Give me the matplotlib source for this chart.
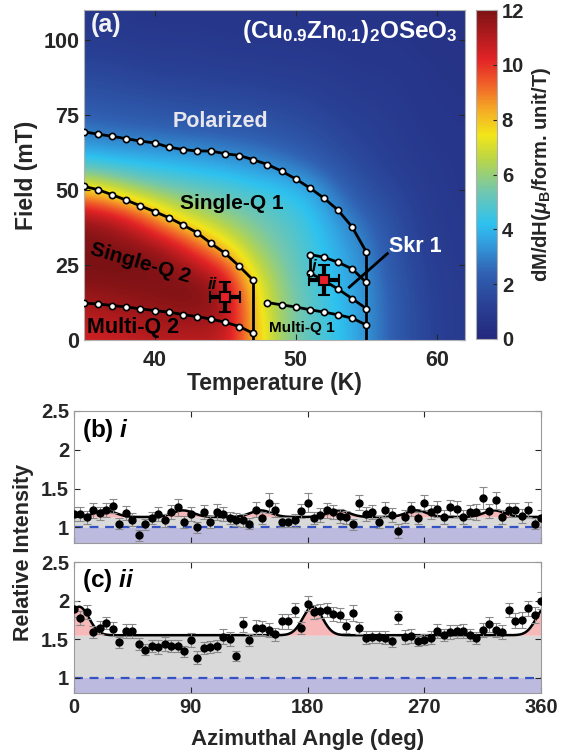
import numpy as np
import matplotlib
matplotlib.use('Agg')
import matplotlib.pyplot as plt
from matplotlib.colors import LinearSegmentedColormap

plt.rcParams['font.family'] = ['Liberation Sans', 'DejaVu Sans']
plt.rcParams['font.weight'] = 'bold'
plt.rcParams['axes.labelweight'] = 'bold'
plt.rcParams['mathtext.fontset'] = 'custom'
plt.rcParams['mathtext.rm'] = 'Liberation Sans:bold'
plt.rcParams['mathtext.bf'] = 'Liberation Sans:bold'
plt.rcParams['mathtext.it'] = 'Liberation Sans:italic:bold'
plt.rcParams['mathtext.default'] = 'bf'

# ---- (a) dM/dH map (rows: field, cols: temperature)
temp_grid = [35, 37, 39, 41, 43, 45, 47, 49, 51, 53, 55, 57, 59, 61, 63]
field_grid = [0, 10, 20, 30, 40, 50, 60, 70, 80, 90, 100, 110]
dmdh = [
    [10.5, 10.5, 10.8, 10.8, 10.8, 10.8, 8.3, 6.0, 5.0, 4.3, 3.3, 2.2, 1.4, 1.0, 0.9],
    [11.0, 11.3, 11.5, 11.7, 11.8, 11.5, 8.0, 6.0, 5.0, 4.2, 3.3, 2.2, 1.4, 1.0, 0.9],
    [12.0, 12.0, 12.0, 12.0, 12.0, 11.0, 7.5, 5.8, 4.8, 4.0, 3.2, 2.1, 1.3, 1.0, 0.9],
    [12.0, 12.0, 12.0, 11.5, 9.8, 8.0, 6.2, 5.4, 4.6, 3.8, 3.0, 1.9, 1.2, 0.9, 0.8],
    [11.8, 11.3, 10.0, 8.0, 6.8, 6.0, 5.5, 5.0, 4.4, 3.4, 2.5, 1.7, 1.1, 0.9, 0.8],
    [8.0, 7.0, 6.0, 5.5, 5.2, 5.0, 4.6, 4.3, 3.8, 2.6, 1.8, 1.4, 1.0, 0.8, 0.7],
    [4.2, 4.0, 3.9, 3.8, 3.6, 3.4, 3.1, 2.8, 2.3, 1.8, 1.4, 1.1, 0.9, 0.8, 0.7],
    [2.8, 2.6, 2.5, 2.4, 2.3, 2.2, 2.1, 1.9, 1.7, 1.4, 1.2, 1.0, 0.8, 0.7, 0.7],
    [2.0, 1.9, 1.8, 1.7, 1.6, 1.6, 1.5, 1.4, 1.3, 1.1, 1.0, 0.9, 0.7, 0.7, 0.6],
    [1.5, 1.4, 1.3, 1.2, 1.2, 1.1, 1.1, 1.0, 1.0, 0.9, 0.8, 0.8, 0.7, 0.6, 0.6],
    [1.0, 1.0, 0.9, 0.9, 0.9, 0.8, 0.8, 0.8, 0.8, 0.7, 0.7, 0.7, 0.6, 0.6, 0.5],
    [0.8, 0.8, 0.7, 0.7, 0.7, 0.7, 0.7, 0.7, 0.6, 0.6, 0.6, 0.6, 0.6, 0.5, 0.5],
]

# phase boundaries
t_pol = [35, 36, 37, 38, 39, 40, 41, 42, 43, 44, 45, 46, 47, 48, 49, 50, 51, 52, 53, 54, 55]
h_pol = [69.4, 68.6, 67.9, 67.1, 66.3, 65.7, 64.3, 63.5, 63.0, 63.0, 62.1, 61.5, 60.1,
         58.5, 56.3, 53.7, 50.7, 47.3, 43.3, 37.7, 29.4]
t_sq = [35, 36, 37, 38, 39, 40, 41, 42, 43, 44, 45, 46, 47]
h_sq = [51.2, 50.1, 48.4, 46.6, 44.7, 42.8, 40.8, 38.4, 35.8, 32.2, 28.9, 24.6, 19.9]
t_mq2 = [35, 36, 37, 38, 39, 40, 41, 42, 43, 44, 45, 46, 47]
h_mq2 = [12.3, 12.0, 11.5, 11.0, 10.4, 9.8, 9.3, 8.5, 7.8, 7.0, 5.9, 4.5, 2.2]
t_mq1 = [48, 49, 50, 51, 52, 53, 54, 55]
h_mq1 = [12.5, 11.7, 11.0, 10.1, 9.3, 8.4, 7.3, 5.0]
t_skr = [51, 52, 53, 54, 55]
h_skr_top = [28.5, 27.6, 25.9, 23.7, 19.2]
h_skr_bot = [22.4, 19.8, 17.0, 13.8, 10.5]

# measurement points i and ii
pt_i = (52.0, 20.1)
pt_ii = (45.0, 14.2)

# ---- (b), (c) azimuthal scans
angles = np.arange(0, 361, 5)
int_i = [1.17, 1.17, 1.13, 1.22, 1.18, 1.23, 1.28, 1.05, 1.19, 1.10,
         0.90, 1.04, 1.12, 1.17, 1.09, 1.20, 1.26, 1.07, 1.17, 1.00,
         1.20, 1.07, 1.20, 1.17, 1.12, 1.10, 1.09, 1.05, 1.23, 1.12,
         1.32, 1.22, 1.07, 1.07, 1.09, 1.21, 1.32, 1.12, 1.16, 1.22,
         1.20, 1.15, 1.13, 1.04, 1.32, 1.17, 1.20, 1.07, 1.23, 1.16,
         0.95, 1.14, 1.24, 1.12, 1.32, 1.20, 1.24, 1.13, 1.26, 1.24,
         1.14, 1.20, 1.20, 1.38, 1.21, 1.35, 1.13, 1.23, 1.23, 1.15,
         1.23, 1.05, 1.12]
err_i = [0.09, 0.09, 0.08, 0.10, 0.09, 0.09, 0.09, 0.07, 0.09, 0.08,
         0.07, 0.07, 0.08, 0.09, 0.08, 0.09, 0.11, 0.08, 0.09, 0.07,
         0.09, 0.08, 0.10, 0.09, 0.08, 0.08, 0.08, 0.07, 0.10, 0.08,
         0.13, 0.09, 0.07, 0.07, 0.08, 0.09, 0.12, 0.08, 0.09, 0.10,
         0.09, 0.09, 0.08, 0.07, 0.10, 0.09, 0.09, 0.08, 0.10, 0.09,
         0.09, 0.08, 0.09, 0.08, 0.10, 0.09, 0.10, 0.09, 0.10, 0.10,
         0.09, 0.09, 0.10, 0.14, 0.09, 0.11, 0.09, 0.09, 0.09, 0.09,
         0.10, 0.07, 0.11]
int_ii = [1.89, 1.77, 1.85, 1.59, 1.65, 1.71, 1.63, 1.46, 1.60, 1.61,
          1.44, 1.36, 1.41, 1.40, 1.44, 1.41, 1.41, 1.34, 1.49, 1.26,
          1.38, 1.40, 1.41, 1.53, 1.50, 1.28, 1.69, 1.49, 1.65, 1.64,
          1.62, 1.56, 1.73, 1.73, 1.88, 1.64, 1.96, 1.85, 1.86, 1.88,
          1.82, 1.81, 1.67, 1.84, 1.64, 1.52, 1.53, 1.53, 1.52, 1.47,
          1.78, 1.53, 1.54, 1.48, 1.49, 1.52, 1.61, 1.55, 1.59, 1.60,
          1.60, 1.55, 1.51, 1.62, 1.69, 1.62, 1.59, 1.88, 1.74, 1.75,
          1.90, 1.81, 2.00]
err_ii = [0.10, 0.09, 0.09, 0.08, 0.08, 0.08, 0.09, 0.07, 0.09, 0.09,
          0.08, 0.07, 0.08, 0.09, 0.09, 0.08, 0.08, 0.07, 0.09, 0.09,
          0.08, 0.08, 0.08, 0.10, 0.09, 0.07, 0.10, 0.08, 0.10, 0.09,
          0.09, 0.09, 0.10, 0.10, 0.09, 0.08, 0.10, 0.09, 0.09, 0.09,
          0.09, 0.09, 0.09, 0.10, 0.08, 0.08, 0.08, 0.08, 0.08, 0.07,
          0.09, 0.09, 0.09, 0.07, 0.07, 0.08, 0.09, 0.08, 0.09, 0.08,
          0.09, 0.08, 0.08, 0.09, 0.10, 0.09, 0.09, 0.09, 0.10, 0.10,
          0.10, 0.10, 0.11]

# fitted six-fold (b) and two-fold (c) peak models
fit_i = dict(base=1.135, amp=0.085, centers=[24, 84, 144, 204, 264, 324], width=8.0)
fit_ii = dict(base=1.55, amp=0.37, centers=[4, 184], width=7.5)


def peaks(x, base, amp, centers, width):
    y = np.full(len(x), base, dtype=float)
    for c in centers:
        for s in (-360, 0, 360):
            y += amp * np.exp(-0.5 * ((x - c - s) / width) ** 2)
    return y


cmap = LinearSegmentedColormap.from_list('dmdh', [
    (0.00, (0.14, 0.16, 0.49)),
    (0.10, (0.16, 0.25, 0.58)),
    (0.20, (0.19, 0.38, 0.70)),
    (0.30, (0.20, 0.64, 0.88)),
    (0.35, (0.18, 0.76, 0.94)),
    (0.45, (0.45, 0.78, 0.68)),
    (0.55, (0.74, 0.84, 0.27)),
    (0.62, (0.95, 0.90, 0.10)),
    (0.70, (0.96, 0.66, 0.15)),
    (0.78, (0.94, 0.36, 0.16)),
    (0.85, (0.89, 0.14, 0.15)),
    (1.00, (0.49, 0.07, 0.08)),
])

fig = plt.figure(figsize=(5.68, 7.52), dpi=100)
ax = fig.add_axes([84/568, 1-340/752, 381/568, 330/752])
cax = fig.add_axes([476/568, 1-339/752, 21/568, 329/752])
axb = fig.add_axes([74/568, 1-543/752, 467/568, 132/752])
axc = fig.add_axes([74/568, 1-693/752, 467/568, 131/752])

tick_kw = dict(direction='in', top=True, right=True, length=4, labelsize=14.5,
               colors='#262626', width=0.8)

# ---- panel (a)
dT = temp_grid[1] - temp_grid[0]
dH = field_grid[1] - field_grid[0]
im = ax.imshow(np.array(dmdh), origin='lower', aspect='auto', cmap=cmap, vmin=0, vmax=12,
               interpolation='bicubic', interpolation_stage='data',
               extent=[temp_grid[0]-dT/2, temp_grid[-1]+dT/2, field_grid[0]-dH/2, field_grid[-1]+dH/2])

line_kw = dict(color='black', lw=2, marker='o', ms=4.5, mfc='white', mec='black', mew=1.2, zorder=4)
ax.plot([t_pol[-1], t_pol[-1]], [h_pol[-1], 0], color='black', lw=2, zorder=3)
ax.plot([t_sq[-1], t_sq[-1]], [h_sq[-1], 0], color='black', lw=2, zorder=3)
ax.plot([t_skr[0], t_skr[0]], [h_skr_top[0], h_skr_bot[0]], color='black', lw=2, zorder=3)
ax.plot(t_pol, h_pol, **line_kw)
ax.plot(t_sq, h_sq, **line_kw)
ax.plot(t_mq2, h_mq2, **line_kw)
ax.plot(t_mq1, h_mq1, **line_kw)
ax.plot(t_skr, h_skr_top, **line_kw)
ax.plot(t_skr, h_skr_bot, **line_kw)

for p in (pt_i, pt_ii):
    ax.errorbar(p[0], p[1], xerr=1.05, yerr=5.0, fmt='s', ms=7, mfc='#e8202a', mec='black',
                mew=1.5, ecolor='black', elinewidth=3, capsize=4, capthick=3, zorder=6)
ax.text(51.3, 24.6, 'i', style='italic', fontsize=12, ha='center', va='center', zorder=7)
ax.text(44.1, 18.6, 'ii', style='italic', fontsize=12, ha='center', va='center', zorder=7)

ax.text(35.5, 105, '(a)', color='#f2f2f2', fontsize=18, ha='left', va='center')
ax.text(61.5, 102.8, r'(Cu$_{0.9}$Zn$_{0.1}$)$_2$OSeO$_3$', color='white', fontsize=17.5,
        ha='right', va='center')
ax.text(44.65, 72.7, 'Polarized', color='#e6e6ec', fontsize=15.5, ha='center', va='center')
ax.text(45.5, 45.6, 'Single-Q 1', color='black', fontsize=15, ha='center', va='center')
ax.text(39.0, 25.5, 'Single-Q 2', color='black', fontsize=15, ha='center', va='center',
        rotation=-16, rotation_mode='anchor')
ax.text(35.2, 4.0, 'Multi-Q 2', color='black', fontsize=15.5, ha='left', va='center')
ax.text(50.45, 4.0, 'Multi-Q 1', color='black', fontsize=11, ha='center', va='center')
ax.text(58.5, 31.3, 'Skr 1', color='white', fontsize=15.5, ha='center', va='center')
ax.plot([56.5, 53.8], [28.8, 17.6], color='black', lw=2, zorder=5)

ax.set_xlim(35, 62)
ax.set_ylim(0, 110)
ax.set_xticks([40, 50, 60])
ax.set_yticks([0, 25, 50, 75, 100])
ax.tick_params(**tick_kw)
ax.tick_params(labelsize=15.5)
ax.tick_params(axis='x', pad=7)
ax.set_xlabel('Temperature (K)', fontsize=16.5, color='#262626', labelpad=1)
ax.set_ylabel('Field (mT)', fontsize=16.5, color='#262626', labelpad=4)
for s in ax.spines.values():
    s.set_color('#b0b0b0')

cb = fig.colorbar(im, cax=cax, ticks=[0, 2, 4, 6, 8, 10, 12])
cb.ax.tick_params(direction='in', length=3, labelsize=14.5, colors='#262626')
cb.outline.set_edgecolor('#b0b0b0')
cb.set_label(r'dM/dH($\mathit{\mu}_B$/form. unit/T)', fontsize=14.5, color='#262626', labelpad=4)

# ---- panels (b) and (c)
xf = np.linspace(0, 360, 721)
for a, vals, errs, fit, lab, ly in ((axb, int_i, err_i, fit_i, r'(b) $\mathit{i}$', 0.85),
                                     (axc, int_ii, err_ii, fit_ii, r'(c) $\mathit{ii}$', 0.86)):
    curve = peaks(xf, **fit)
    a.axhspan(0.8, 1.0, color='#bdbae0', lw=0, zorder=0)
    a.fill_between(xf, 1.0, fit['base'], color='#d9d9d9', lw=0, zorder=0)
    a.fill_between(xf, fit['base'], curve, color='#f6b8b8', lw=0, zorder=0)
    a.axhline(1.0, color='#3552c2', lw=1.6, ls=(0, (4, 3)), zorder=1)
    a.plot(xf, curve, color='black', lw=1.8, zorder=2)
    a.errorbar(angles, vals, yerr=errs, fmt='o', color='black', ms=5, ecolor='#8a8a8a',
               elinewidth=0.8, capsize=2.6, capthick=0.8, zorder=3)
    a.text(0.018, ly, lab, transform=a.transAxes, fontsize=17.5, color='black', va='center')
    a.set_xlim(0, 360)
    a.set_ylim(0.8, 2.5)
    a.set_xticks([0, 90, 180, 270, 360])
    a.set_yticks([1, 1.5, 2, 2.5])
    a.set_yticklabels(['1', '1.5', '2', '2.5'])
    a.tick_params(**tick_kw)
    for s in a.spines.values():
        s.set_color('#9a9a9a')

axb.set_xticklabels([])
axc.set_xlabel('Azimuthal Angle (deg)', fontsize=16, color='#262626', labelpad=9)
fig.text(0.042, 1-552/752, 'Relative Intensity', rotation=90, fontsize=15.5, color='#262626',
         ha='center', va='center')

fig.savefig('out.png', dpi=100)
